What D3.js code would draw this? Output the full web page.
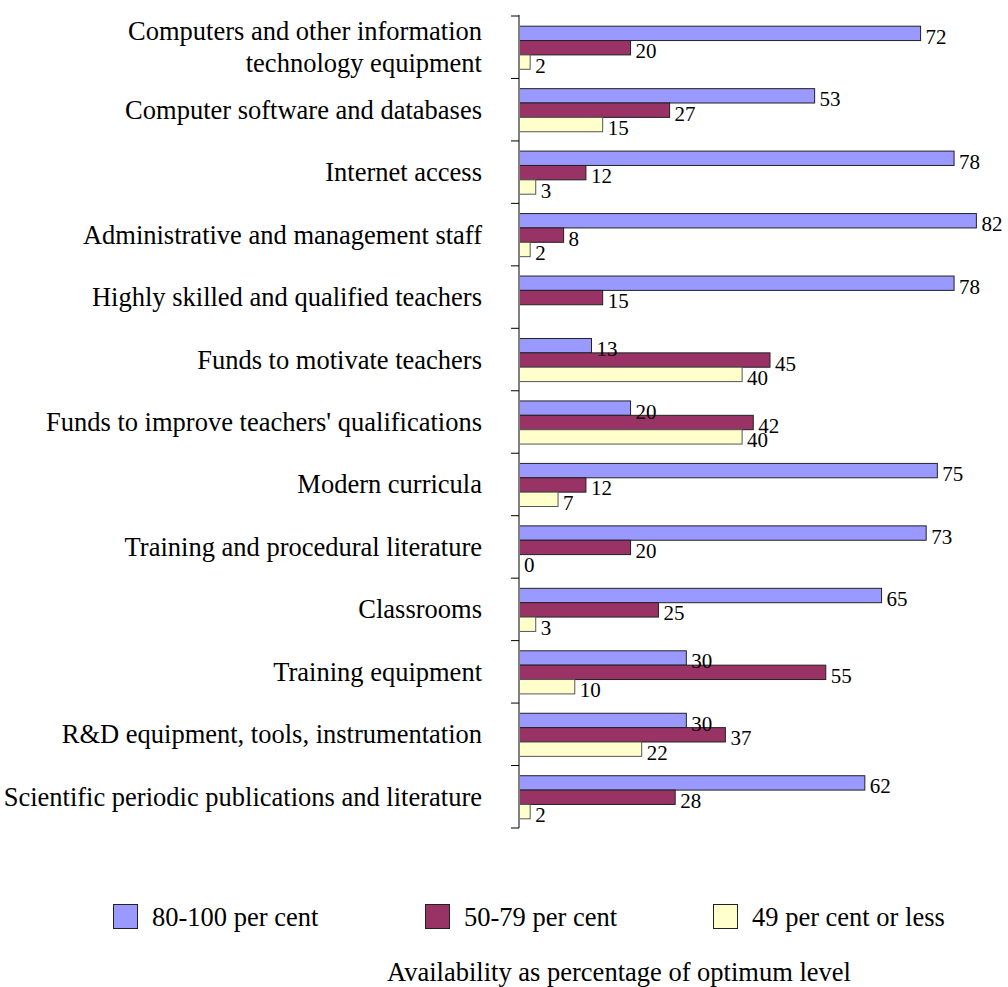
<!DOCTYPE html>
<html>
<head>
<meta charset="utf-8">
<script src="https://cdn.jsdelivr.net/npm/d3@7/dist/d3.min.js"></script>
<style>
  html, body { margin: 0; padding: 0; background: #ffffff; }
  svg { display: block; }
  text { font-family: "Liberation Serif", "Times New Roman", serif; fill: #000; }
</style>
</head>
<body>
<svg id="chart" width="1008" height="987"></svg>
<script>
// Resource categories (top to bottom); "\n" splits a label over two lines
const categories = [
  "Computers and other information\ntechnology equipment",
  "Computer software and databases",
  "Internet access",
  "Administrative and management staff",
  "Highly skilled and qualified teachers",
  "Funds to motivate teachers",
  "Funds to improve teachers' qualifications",
  "Modern curricula",
  "Training and procedural literature",
  "Classrooms",
  "Training equipment",
  "R&D equipment, tools, instrumentation",
  "Scientific periodic publications and literature"
];

// Share of respondents by availability band (per cent); null = not reported
const high   = [72, 53, 78, 82, 78, 13, 20, 75, 73, 65, 30, 30, 62];
const medium = [20, 27, 12,  8, 15, 45, 42, 12, 20, 25, 55, 37, 28];
const low    = [ 2, 15,  3,  2, null, 40, 40, 7,  0,  3, 10, 22,  2];

const seriesNames  = ["80-100 per cent", "50-79 per cent", "49 per cent or less"];
const seriesColors = ["#9999ff", "#993366", "#ffffcc"];
const axisTitle = "Availability as percentage of optimum level";

const seriesValues = [high, medium, low];
const seriesKeys = ["high", "medium", "low"];

const svg = d3.select("#chart");

// Layout
const plotLeft = 519, plotRight = 1021, plotTop = 16, plotBottom = 828;

const x = d3.scaleLinear().domain([0, 90]).range([plotLeft, plotRight]);

const y = d3.scaleBand()
  .domain(d3.range(categories.length))
  .range([plotTop, plotBottom])
  .paddingInner(0.31)
  .paddingOuter(0.155);

const ySub = d3.scaleBand()
  .domain(seriesKeys)
  .range([0, y.bandwidth()])
  .padding(0);

const step = y.step();
const bandCenter = i => y(i) + y.bandwidth() / 2;

// Rows of grouped bars
const rows = categories.map((c, i) => ({
  index: i,
  values: seriesKeys.map((k, s) => ({ key: k, s, value: seriesValues[s][i] }))
}));

const groups = svg.append("g").selectAll("g.row")
  .data(rows)
  .join("g")
  .attr("class", "row")
  .attr("transform", d => `translate(0,${y(d.index)})`);

const present = d => d.values.filter(v => v.value !== null);

groups.selectAll("rect")
  .data(present)
  .join("rect")
  .attr("x", x(0))
  .attr("y", d => ySub(d.key) + 0.5)
  .attr("width", d => Math.max(0, x(d.value) - x(0)))
  .attr("height", ySub.bandwidth())
  .attr("fill", d => seriesColors[d.s])
  .attr("stroke", d => d.s === 2 ? "#555" : "#222")
  .attr("stroke-width", 1);

groups.selectAll("text.value")
  .data(present)
  .join("text")
  .attr("class", "value")
  .attr("x", d => x(d.value) + 5)
  .attr("y", d => ySub(d.key) + ySub.bandwidth() / 2 + 11)
  .attr("font-size", 21)
  .text(d => d.value);

// Category axis: line on the left edge with boundary ticks
const axisG = svg.append("g");
axisG.append("line")
  .attr("x1", plotLeft).attr("x2", plotLeft)
  .attr("y1", plotTop - 1).attr("y2", plotBottom)
  .attr("stroke", "#808080").attr("stroke-width", 2);

axisG.selectAll("line.tick")
  .data(d3.range(categories.length + 1))
  .join("line")
  .attr("class", "tick")
  .attr("x1", plotLeft - 8).attr("x2", plotLeft)
  .attr("y1", i => plotTop + i * step)
  .attr("y2", i => plotTop + i * step)
  .attr("stroke", "#000").attr("stroke-width", 1);

// Category labels, right-aligned against the axis
const labelG = svg.append("g");
categories.forEach((c, i) => {
  const lines = c.split("\n");
  const t = labelG.append("text")
    .attr("text-anchor", "end")
    .attr("font-size", 26.5);
  lines.forEach((ln, k) => {
    t.append("tspan")
      .attr("x", 482)
      .attr("y", bandCenter(i) + 9 + (k - (lines.length - 1) / 2) * 32)
      .text(ln);
  });
});

// Legend
const legendX = [113, 425, 713];
const legend = svg.append("g");
seriesNames.forEach((name, s) => {
  legend.append("rect")
    .attr("x", legendX[s] + 0.5).attr("y", 904.5)
    .attr("width", 24).attr("height", 24)
    .attr("fill", seriesColors[s])
    .attr("stroke", "#222").attr("stroke-width", 1);
  legend.append("text")
    .attr("x", legendX[s] + 39)
    .attr("y", 926)
    .attr("font-size", 26.5)
    .text(name);
});

// Axis title
svg.append("text")
  .attr("x", 619).attr("y", 981)
  .attr("text-anchor", "middle")
  .attr("font-size", 26.5)
  .text(axisTitle);
</script>
</body>
</html>
